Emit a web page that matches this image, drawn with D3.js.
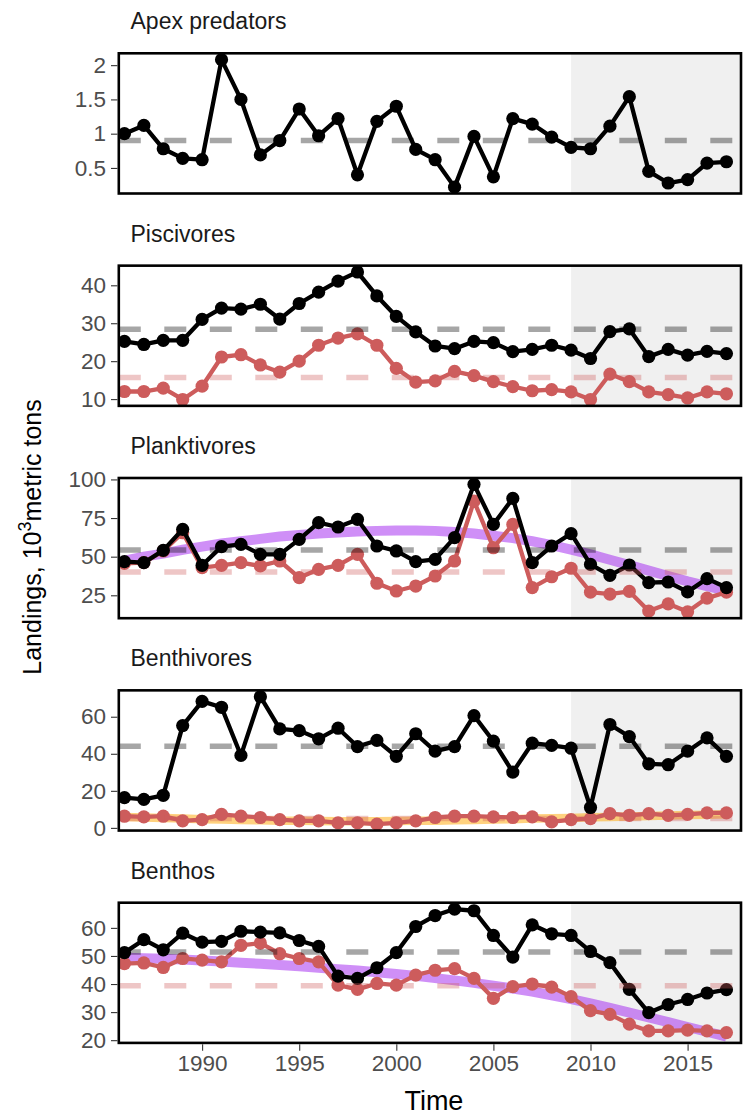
<!DOCTYPE html>
<html><head><meta charset="utf-8">
<script src="https://cdn.jsdelivr.net/npm/d3@7"></script>
<style>body{margin:0;background:#fff}svg{display:block}</style>
</head><body>
<svg id="c" width="743" height="1115"></svg>
<script>
// ---------- data ----------
const years = [1986,1987,1988,1989,1990,1991,1992,1993,1994,1995,1996,1997,1998,1999,2000,2001,2002,2003,2004,2005,2006,2007,2008,2009,2010,2011,2012,2013,2014,2015,2016,2017];
const panelTitles = ["Apex predators","Piscivores","Planktivores","Benthivores","Benthos"];

const apexTotal = [1.00,1.12,0.78,0.64,0.62,2.08,1.50,0.69,0.90,1.36,0.97,1.22,0.40,1.18,1.40,0.77,0.62,0.22,0.96,0.37,1.22,1.14,0.95,0.80,0.78,1.11,1.54,0.45,0.28,0.33,0.57,0.59];

const piscTotal = [25.2,24.4,25.5,25.5,31.0,34.0,33.7,35.0,31.1,35.2,38.2,41.1,43.5,37.2,31.8,27.7,24.0,23.3,25.2,24.9,22.5,23.1,24.2,22.9,20.7,27.8,28.5,21.2,23.1,21.6,22.6,22.0];
const piscUS    = [12.0,12.0,12.9,9.9,13.4,21.1,21.7,19.0,17.1,20.0,24.2,26.1,27.2,24.2,18.1,14.5,14.8,17.3,16.2,14.6,13.3,12.2,12.5,11.9,9.9,16.6,14.6,11.9,11.2,10.3,11.9,11.4];

const plankTotal = [46.8,46.1,54.1,67.7,44.4,56.5,58.0,51.5,51.5,61.2,72.0,69.2,74.1,56.9,53.7,46.8,48.3,62.3,96.8,70.9,87.7,46.1,56.9,64.9,45.0,37.9,44.6,33.2,33.6,27.2,35.8,30.0];
const plankUS    = [45.7,46.1,53.7,65.5,42.9,44.4,46.1,44.0,47.2,36.4,41.8,44.4,51.5,32.8,27.8,31.0,37.5,47.2,86.0,55.8,70.9,30.0,37.0,42.5,27.0,25.8,27.5,14.8,19.5,14.3,23.2,27.0];
const plankTrend = [47.5,50.0,52.0,54.5,56.5,58.5,60.0,61.5,63.0,64.0,65.0,65.7,66.3,66.7,67.0,67.0,66.7,66.0,65.0,63.5,62.0,60.0,57.5,54.5,51.5,48.0,44.5,41.0,37.5,34.0,31.0,28.0];

const benthivTotal = [16.3,15.4,17.6,55.2,68.3,65.1,39.1,70.8,53.4,52.5,48.1,53.8,43.9,47.2,38.6,50.8,41.4,43.9,60.6,46.8,30.1,45.7,44.5,43.0,11.0,55.8,49.3,34.6,34.1,41.4,48.6,38.6];
const benthivUS    = [6.3,5.9,6.3,3.8,4.5,7.3,6.3,5.6,4.5,3.8,3.8,2.7,2.7,2.0,2.7,3.8,5.6,6.3,6.3,5.9,5.6,5.9,3.2,4.5,5.0,7.7,6.8,7.7,6.8,7.3,8.1,8.1];
const benthivTrend = [5.9,5.6,5.3,5.0,4.7,4.5,4.3,4.1,3.9,3.8,3.7,3.6,3.6,3.6,3.7,3.8,3.9,4.1,4.3,4.5,4.7,5.0,5.2,5.4,5.7,5.9,6.2,6.4,6.7,6.9,7.1,7.3];

const benthosTotal = [51.2,55.8,52.2,58.1,54.9,55.2,58.8,58.5,58.2,55.5,53.4,42.8,42.0,45.8,51.2,60.5,64.4,66.7,66.1,57.3,49.6,61.1,57.9,57.3,51.6,47.6,38.1,29.8,32.7,34.5,36.8,38.0];
const benthosUS    = [47.3,47.5,45.9,49.1,48.5,47.9,53.8,54.6,50.8,49.1,47.9,39.6,38.1,40.2,39.6,43.2,44.9,45.5,42.0,34.9,39.1,40.0,38.9,35.5,30.5,29.2,25.7,23.3,23.3,23.6,23.3,22.7];
const benthosTrend = [49.4,49.2,49.0,48.7,48.4,48.0,47.6,47.2,46.8,46.3,45.8,45.3,44.8,44.2,43.6,42.9,42.1,41.3,40.4,39.4,38.4,37.3,36.0,34.6,33.1,31.5,29.8,28.1,26.4,24.7,23.0,21.3];

const totalMeans = [0.9, 28.4, 54.3, 44.0, 51.4];
const usMeans    = [null, 15.7, 40.1, 5.0, 39.4];
const shadeStart = 2009;

const yTicks = [[0.5,1,1.5,2],[10,20,30,40],[25,50,75,100],[0,20,40,60],[20,30,40,50,60]];
const xTicks = [1990,1995,2000,2005,2010,2015];

const panels = [
  {total: apexTotal,    us: null,       trend: null,         trendColor: null},
  {total: piscTotal,    us: piscUS,     trend: null,         trendColor: null},
  {total: plankTotal,   us: plankUS,    trend: plankTrend,   trendColor: "purple"},
  {total: benthivTotal, us: benthivUS,  trend: benthivTrend, trendColor: "orange"},
  {total: benthosTotal, us: benthosUS,  trend: benthosTrend, trendColor: "purple"}
];

// ---------- layout ----------
const FONT = "'Liberation Sans', Arial, Helvetica, sans-serif";
const L = 118.8, R = 741, top0 = 53.3, step = 212.35, ph = 140.2;
const svg = d3.select("#c").style("font-family", FONT);
svg.append("rect").attr("width",743).attr("height",1115).attr("fill","#fff");

const x = d3.scaleLinear().domain([1985.71, 2017.75]).range([L, R]);
const trendColors = {purple: "#A020F0", orange: "#FFA500"};
const redCol = "#CD5C5C";

panels.forEach((p, i) => {
  const y0 = top0 + i*step, y1 = y0 + ph;
  const vals = [...p.total, ...(p.us||[]), ...(p.trend||[]), totalMeans[i]];
  if (usMeans[i] != null) vals.push(usMeans[i]);
  const [mn, mx] = d3.extent(vals);
  const pad = (mx - mn) * 0.05;
  const y = d3.scaleLinear().domain([mn - pad, mx + pad]).range([y1, y0]);

  const g = svg.append("g");
  const clipId = "clip" + i;
  svg.append("clipPath").attr("id", clipId)
    .append("rect").attr("x", L).attr("y", y0).attr("width", R - L).attr("height", ph);
  const pg = g.append("g").attr("clip-path", `url(#${clipId})`);

  pg.append("rect").attr("x", x(shadeStart)).attr("y", y0)
    .attr("width", R - x(shadeStart)).attr("height", ph).attr("fill", "#F0F0F0");

  const line = d3.line().x((d, k) => x(years[k])).y(d => y(d));

  if (p.trend) {
    pg.append("path").attr("d", line(p.trend)).attr("fill", "none")
      .attr("stroke", trendColors[p.trendColor]).attr("stroke-opacity", 0.5)
      .attr("stroke-width", p.trendColor === "orange" ? 8.5 : 10);
  }

  const drawSeries = (arr, col) => {
    pg.append("path").attr("d", line(arr)).attr("fill", "none")
      .attr("stroke", col).attr("stroke-width", 4.3).attr("stroke-linejoin", "round");
    pg.selectAll(null).data(arr).enter().append("circle")
      .attr("cx", (d, k) => x(years[k])).attr("cy", d => y(d)).attr("r", 6.6).attr("fill", col);
  };
  if (p.us) drawSeries(p.us, redCol);
  drawSeries(p.total, "#000");

  const hline = (v, col, op) => pg.append("line").attr("x1", L).attr("x2", R)
    .attr("y1", y(v)).attr("y2", y(v)).attr("stroke", col).attr("stroke-opacity", op)
    .attr("stroke-width", 5.5).attr("stroke-dasharray", "22,23.5");
  hline(totalMeans[i], "#000", 0.35);
  if (usMeans[i] != null) hline(usMeans[i], redCol, 0.35);

  g.append("rect").attr("x", L).attr("y", y0).attr("width", R - L).attr("height", ph)
    .attr("fill", "none").attr("stroke", "#000").attr("stroke-width", 2.6);

  const ya = g.append("g").attr("transform", `translate(${L - 1.3},0)`)
    .call(d3.axisLeft(y).tickValues(yTicks[i]).tickSize(6.5).tickPadding(5).tickFormat(d => String(d)));
  ya.select(".domain").remove();
  ya.selectAll(".tick line").attr("stroke", "#333").attr("stroke-width", 1.1);
  ya.selectAll(".tick text").attr("fill", "#4D4D4D").style("font-size", "22.5px").style("font-family", FONT);

  g.append("text").attr("x", 130.5).attr("y", y0 - 24).text(panelTitles[i])
    .attr("fill", "#1A1A1A").style("font-size", "23px");

  if (i === panels.length - 1) {
    const xa = g.append("g").attr("transform", `translate(0,${y1 + 1.3})`)
      .call(d3.axisBottom(x).tickValues(xTicks).tickSize(6.5).tickPadding(4).tickFormat(d3.format("d")));
    xa.select(".domain").remove();
    xa.selectAll(".tick line").attr("stroke", "#333").attr("stroke-width", 1.1);
    xa.selectAll(".tick text").attr("fill", "#4D4D4D").style("font-size", "22.5px").style("font-family", FONT);
  }
});

svg.append("text").attr("x", (L + R) / 2 + 4).attr("y", 1110).attr("text-anchor", "middle")
  .style("font-size", "27px").attr("fill", "#000").text("Time");

const yt = svg.append("text").attr("transform", "translate(41,537) rotate(-90)")
  .attr("text-anchor", "middle").style("font-size", "25px").attr("fill", "#000");
yt.append("tspan").text("Landings, 10");
yt.append("tspan").attr("dy", -10).style("font-size", "18px").text("3");
yt.append("tspan").attr("dy", 10).text("metric tons");
</script>
</body></html>
